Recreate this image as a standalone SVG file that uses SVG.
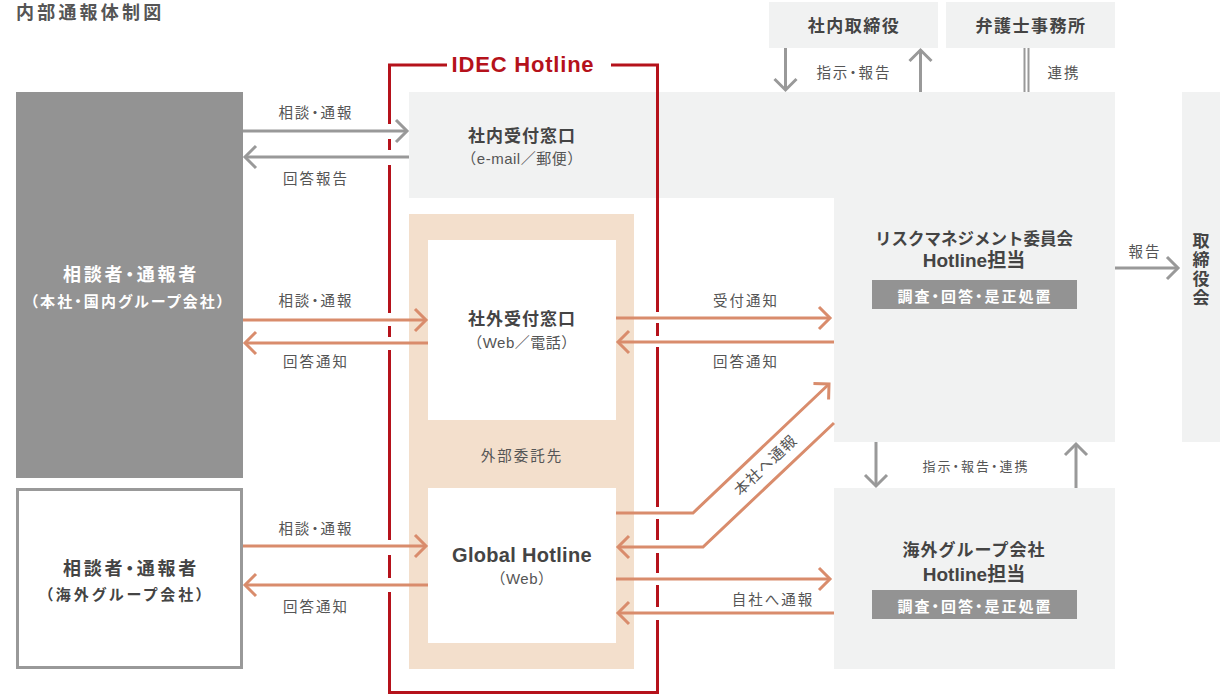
<svg xmlns="http://www.w3.org/2000/svg" width="1230" height="696" viewBox="0 0 1230 696">
<defs>
<style>
text{font-family:"Liberation Sans","Noto Sans CJK JP",sans-serif;}
.t{font-family:"Noto Sans CJK JP",sans-serif;}
.p{font-feature-settings:"palt";}
.lbl{font-size:14.5px;fill:#555;letter-spacing:2px;text-anchor:middle;}
.bt{font-weight:bold;fill:#444;text-anchor:middle;}
.sub{font-size:15px;fill:#555;text-anchor:middle;letter-spacing:0.5px;}
.lg{fill:#f1f2f2;}
.gl{stroke:#999;stroke-width:3;fill:none;}
.ol{stroke:#d98c6c;stroke-width:3;fill:none;}
.bar{fill:#939393;}
.bartx{font-size:15px;font-weight:bold;fill:#fff;text-anchor:middle;letter-spacing:2px;}
</style>
<marker id="ag" markerUnits="userSpaceOnUse" viewBox="0 0 14 24" markerWidth="14" markerHeight="24" refX="12" refY="12" orient="auto" overflow="visible">
<path d="M1,1 L12,12 L1,23" fill="none" stroke="#999" stroke-width="3"/>
</marker>
<marker id="ao" markerUnits="userSpaceOnUse" viewBox="0 0 14 24" markerWidth="14" markerHeight="24" refX="12" refY="12" orient="auto" overflow="visible">
<path d="M1,1 L12,12 L1,23" fill="none" stroke="#d98c6c" stroke-width="3"/>
</marker>
</defs>
<rect width="1230" height="696" fill="#fff"/>

<text x="16" y="19" class="t" style="font-size:18px;font-weight:bold;fill:#555;letter-spacing:3.2px;">内部通報体制図</text>

<g id="board-internal">
<rect x="769" y="2" width="169" height="46" class="lg"/>
<text x="854" y="32" class="t bt" style="font-size:17px;letter-spacing:1.5px;">社内取締役</text>
</g>
<g id="law-office">
<rect x="946" y="2" width="169" height="46" class="lg"/>
<text x="1031" y="32" class="t bt" style="font-size:17px;letter-spacing:1.5px;">弁護士事務所</text>
</g>

<g id="internal-desk">
<rect x="409" y="92" width="706" height="106" class="lg"/>
<text x="522" y="142" class="t bt" style="font-size:17px;letter-spacing:1px;">社内受付窓口</text>
<text x="522" y="164" class="sub">（e-mail／郵便）</text>
</g>

<g id="risk-committee">
<rect x="834" y="196" width="281" height="246" class="lg"/>
<text x="974" y="245" class="t bt" style="font-size:16.5px;">リスクマネジメント委員会</text>
<text x="974" y="267" class="bt" style="font-size:19px;">Hotline担当</text>
<rect x="872" y="280" width="205" height="29" class="bar"/>
<text x="975" y="302" class="t p bartx">調査・回答・是正処置</text>
</g>

<g id="board">
<rect x="1182" y="92" width="38" height="350" class="lg"/>
<text x="1201" y="232" class="t" style="font-size:17px;font-weight:bold;fill:#444;writing-mode:vertical-rl;letter-spacing:2px;">取締役会</text>
</g>

<g id="overseas-group">
<rect x="834" y="488" width="281" height="181" class="lg"/>
<text x="974" y="556" class="t bt" style="font-size:17px;letter-spacing:1px;">海外グループ会社</text>
<text x="974" y="581" class="bt" style="font-size:19px;">Hotline担当</text>
<rect x="872" y="590" width="205" height="29" class="bar"/>
<text x="975" y="612" class="t p bartx">調査・回答・是正処置</text>
</g>

<g id="reporter-domestic">
<rect x="16" y="92" width="227" height="386" fill="#939393"/>
<text x="131" y="281" class="t p" style="font-size:18px;font-weight:bold;fill:#fff;text-anchor:middle;letter-spacing:2.7px;">相談者・通報者</text>
<text x="128.5" y="307" class="t p" style="font-size:15px;font-weight:bold;fill:#fff;text-anchor:middle;letter-spacing:2.1px;">（本社・国内グループ会社）</text>
</g>

<g id="reporter-overseas">
<rect x="17.5" y="489.5" width="224" height="178" fill="#fff" stroke="#999" stroke-width="3"/>
<text x="131" y="575" class="t p bt" style="font-size:18px;letter-spacing:2.7px;">相談者・通報者</text>
<text x="126" y="600" class="t p bt" style="font-size:15px;letter-spacing:3px;">（海外グループ会社）</text>
</g>

<g id="external-contractor">
<rect x="409" y="214" width="225" height="455" fill="#f3dfcc"/>
<text x="522" y="461" class="t lbl">外部委託先</text>
</g>
<g id="external-desk">
<rect x="428" y="240" width="188" height="180" fill="#fff"/>
<text x="522" y="325" class="t bt" style="font-size:17px;letter-spacing:1px;">社外受付窓口</text>
<text x="522" y="348" class="sub">（Web／電話）</text>
</g>
<g id="global-hotline">
<rect x="428" y="488" width="188" height="155" fill="#fff"/>
<text x="522" y="562" class="bt" style="font-size:20px;letter-spacing:0.3px;">Global Hotline</text>
<text x="522" y="584" class="sub">（Web）</text>
</g>

<g id="idec-hotline-frame">
<path d="M447,65 H389.5 V692.5 H657.5 V65 H611" fill="none" stroke="#b5121b" stroke-width="3"/>
<text x="523" y="72" style="font-size:22px;font-weight:bold;fill:#b5121b;text-anchor:middle;letter-spacing:0.8px;">IDEC Hotline</text>
<g fill="#fff">
<rect x="386" y="124" width="7" height="15"/>
<rect x="386" y="150" width="7" height="15"/>
<rect x="386" y="313" width="7" height="13"/>
<rect x="386" y="337" width="7" height="13"/>
<rect x="386" y="540" width="7" height="15"/>
<rect x="386" y="578" width="7" height="14"/>
<rect x="654" y="312" width="7" height="11"/>
<rect x="654" y="336" width="7" height="11"/>
<rect x="654" y="507" width="7" height="12"/>
<rect x="654" y="540" width="7" height="13"/>
<rect x="654" y="573" width="7" height="12"/>
<rect x="654" y="607" width="7" height="13"/>
</g>
</g>

<g id="connectors">
<line x1="243" y1="131" x2="407" y2="131" class="gl" marker-end="url(#ag)"/>
<line x1="409" y1="157" x2="245" y2="157" class="gl" marker-end="url(#ag)"/>
<text x="316" y="118" class="t p lbl">相談・通報</text>
<text x="316" y="184" class="t lbl">回答報告</text>

<line x1="243" y1="320" x2="426" y2="320" class="ol" marker-end="url(#ao)"/>
<line x1="428" y1="343" x2="245" y2="343" class="ol" marker-end="url(#ao)"/>
<text x="316" y="306" class="t p lbl">相談・通報</text>
<text x="316" y="367" class="t lbl">回答通知</text>

<line x1="243" y1="546" x2="426" y2="546" class="ol" marker-end="url(#ao)"/>
<line x1="428" y1="585" x2="245" y2="585" class="ol" marker-end="url(#ao)"/>
<text x="316" y="534" class="t p lbl">相談・通報</text>
<text x="316" y="612" class="t lbl">回答通知</text>

<line x1="616" y1="318" x2="830" y2="318" class="ol" marker-end="url(#ao)"/>
<line x1="834" y1="342" x2="618" y2="342" class="ol" marker-end="url(#ao)"/>
<text x="746" y="306" class="t lbl">受付通知</text>
<text x="746" y="367" class="t lbl">回答通知</text>

<polyline points="616,513 693,513 829,384" class="ol" marker-end="url(#ao)"/>
<polyline points="834,423 703,547 618,547" class="ol" marker-end="url(#ao)"/>
<text x="766" y="471" class="t lbl" style="font-size:15px;letter-spacing:1px;" transform="rotate(-43.5 765 466)">本社へ通報</text>

<line x1="616" y1="579" x2="830" y2="579" class="ol" marker-end="url(#ao)"/>
<line x1="834" y1="613" x2="618" y2="613" class="ol" marker-end="url(#ao)"/>
<text x="773" y="605" class="t lbl">自社へ通報</text>

<line x1="785.5" y1="48" x2="785.5" y2="90" class="gl" marker-end="url(#ag)"/>
<line x1="920.5" y1="92" x2="920.5" y2="50" class="gl" marker-end="url(#ag)"/>
<text x="854" y="78" class="t p lbl">指示・報告</text>
<line x1="1024.5" y1="48" x2="1024.5" y2="92" stroke="#999" stroke-width="2"/>
<line x1="1028.5" y1="48" x2="1028.5" y2="92" stroke="#999" stroke-width="2"/>
<text x="1064" y="78" class="t lbl">連携</text>

<line x1="1115" y1="268" x2="1178" y2="268" class="gl" marker-end="url(#ag)"/>
<text x="1145" y="257" class="t lbl">報告</text>

<line x1="876" y1="442" x2="876" y2="486" class="gl" marker-end="url(#ag)"/>
<line x1="1076" y1="488" x2="1076" y2="444" class="gl" marker-end="url(#ag)"/>
<text x="976" y="471" class="t p lbl" style="font-size:13px;">指示・報告・連携</text>
</g>
</svg>
